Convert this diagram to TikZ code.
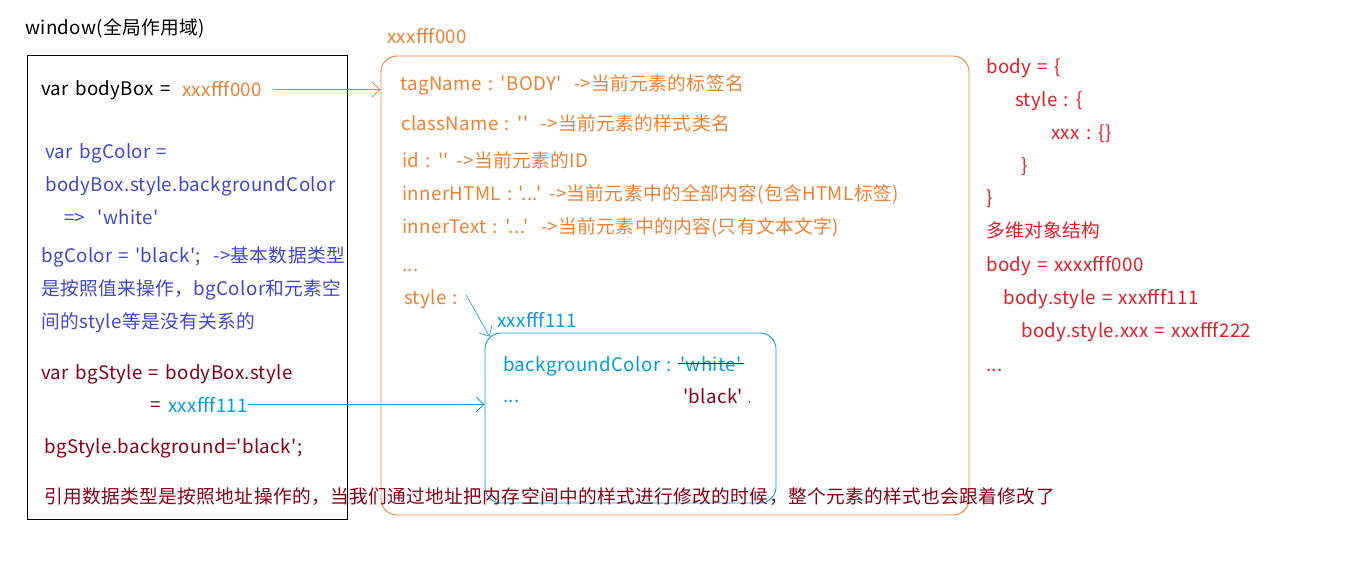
\documentclass[tikz,border=0pt]{standalone}
\usepackage{fontspec}
\newfontfamily\yahei[LetterSpace=2,WordSpace=1.35]{Noto Sans CJK SC}
\usetikzlibrary{arrows.meta}
\definecolor{addrorange}{RGB}{240,128,52}
\definecolor{valblue}{RGB}{63,72,204}
\definecolor{refred}{RGB}{136,0,21}
\definecolor{addrcyan}{RGB}{0,158,226}
\definecolor{objred}{RGB}{232,28,40}

\begin{document}
\begin{tikzpicture}[x=1pt,y=-1pt,
    txt/.style={anchor=base west, inner sep=0pt, font=\yahei\fontsize{18.7}{22}\selectfont},
    link/.style={-{Straight Barb[length=8pt,width=15pt]}, line width=0.8pt},
    membox/.style={draw, line width=0.9pt, rounded corners=16pt, inner sep=0pt}]
\useasboundingbox (0,0) rectangle (1346,561);

% memory boxes
\node[draw, line width=1pt, minimum width=320pt, minimum height=463pt, inner sep=0pt] (scope) at (187,287.5) {};
\node[membox, draw=addrorange, minimum width=588pt, minimum height=459pt] (objbox) at (675,285.5) {};
\node[membox, draw=addrcyan, minimum width=291pt, minimum height=170pt] (stylebox) at (630.5,418) {};

% window scope
\node[txt] (winlabel) at (25,35) {window(全局作用域)};
\node[txt] (bodyvar) at (41,96) {var bodyBox =};
\node[txt, text=addrorange] (bodyval) at (182,97) {xxxfff000};
\node[txt, text=valblue] (bgc1) at (45,159) {var bgColor =};
\node[txt, text=valblue] (bgc2) at (45,192) {bodyBox.style.backgroundColor};
\node[txt, text=valblue] (bgc3) at (64,225) {=>~~'white'};
\node[txt, text=valblue] (bgc4) at (41,262) {bgColor = 'black';~~->基本数据类型};
\node[txt, text=valblue] (bgc5) at (41,295) {是按照值来操作，bgColor和元素空};
\node[txt, text=valblue] (bgc6) at (41,328) {间的style等是没有关系的};
\node[txt, text=refred] (sty1) at (41,379) {var bgStyle = bodyBox.style};
\node[txt, text=refred] (sty2) at (150,411) {=};
\node[txt, text=addrcyan] (styval) at (168,412) {xxxfff111};
\node[txt, text=refred] (sty3) at (44,453) {bgStyle.background='black';};
\node[txt, text=refred] (note) at (44,503) {引用数据类型是按照地址操作的，当我们通过地址把内存空间中的样式进行修改的时候，整个元素的样式也会跟着修改了};

% body object
\node[txt, text=addrorange] (addr0) at (387,44) {xxxfff000};
\node[txt, text=addrorange] (tag) at (400,91) {tagName : 'BODY'~~->当前元素的标签名};
\node[txt, text=addrorange] (cls) at (401,131) {className : ''~~->当前元素的样式类名};
\node[txt, text=addrorange] (idl) at (402,168) {id : '' ->当前元素的ID};
\node[txt, text=addrorange] (ihtml) at (402,201) {innerHTML : '...' ->当前元素中的全部内容(包含HTML标签)};
\node[txt, text=addrorange] (itext) at (402,234) {innerText : '...'~~->当前元素中的内容(只有文本文字)};
\node[txt, text=addrorange] (odots) at (402,272) {...};
\node[txt, text=addrorange] (stl) at (404,304) {style :};

% style object
\node[txt, text=addrcyan] (addr1) at (497,327) {xxxfff111};
\node[txt, text=addrcyan] (bgcol) at (503,371) {backgroundColor :};
\node[txt, text=addrcyan] (oldval) at (680,371) {'white'};
\node[txt, text=addrcyan] (sdots) at (503,402) {...};
\node[txt, text=refred] (newval) at (683,403) {'black'};
\node[txt, text=refred, font=\yahei\fontsize{9}{10}\selectfont] (tick) at (748,402) {,};
\draw[refred, line width=0.9pt] ([xshift=-2pt]oldval.west) -- ([xshift=2pt]oldval.east);

% nested structure
\node[txt, text=objred] (r1) at (986,74) {body = \{};
\node[txt, text=objred] (r2) at (1015,107) {style : \{};
\node[txt, text=objred] (r3) at (1051,140) {xxx : \{\}};
\node[txt, text=objred] (r4) at (1021,173) {\}};
\node[txt, text=objred] (r5) at (986,205) {\}};
\node[txt, text=objred] (r6) at (986,238) {多维对象结构};
\node[txt, text=objred] (r7) at (986,272) {body = xxxxfff000};
\node[txt, text=objred] (r8) at (1003,304) {body.style = xxxfff111};
\node[txt, text=objred] (r9) at (1021,337) {body.style.xxx = xxxfff222};
\node[txt, text=objred] (r10) at (986,371) {...};

% references
\draw[link, addrorange] ([xshift=12pt]bodyval.east) -- (objbox.west |- bodyval.east);
\draw[link, addrcyan] (styval.east) -- (stylebox.west |- styval.east);
\draw[link, addrcyan, line width=0.6pt] ([xshift=8pt,yshift=4pt]stl.east) -- ([xshift=5pt,yshift=-4pt]stylebox.north west);
\end{tikzpicture}
\end{document}
